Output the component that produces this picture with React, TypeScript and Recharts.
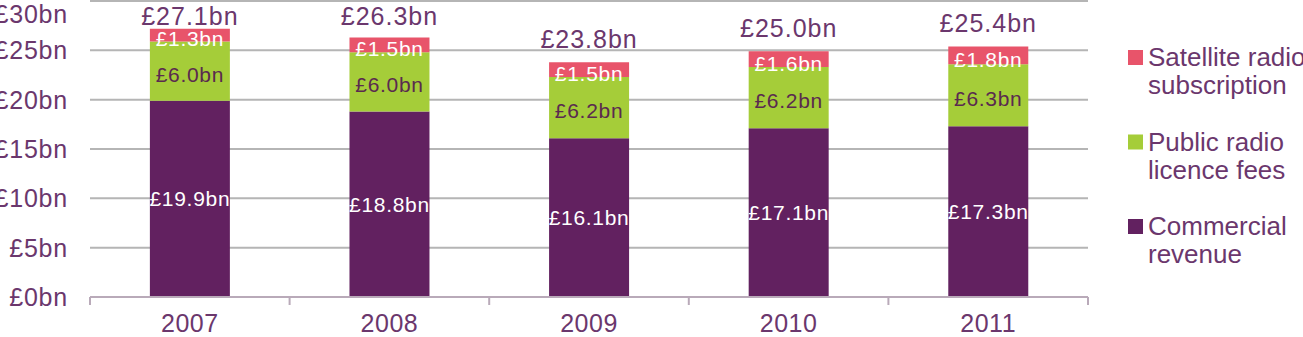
import { BarChart, Bar, XAxis, YAxis, CartesianGrid, LabelList } from "recharts"

const years = ["2007", "2008", "2009", "2010", "2011"]
const commercial = [19.9, 18.8, 16.1, 17.1, 17.3]
const licenceFees = [6.0, 6.0, 6.2, 6.2, 6.3]
const satellite = [1.3, 1.5, 1.5, 1.6, 1.8]
const totals = [27.1, 26.3, 23.8, 25.0, 25.4]
const yTicks = [0, 5, 10, 15, 20, 25, 30]

const PURPLE = "#622160"
const GREEN = "#a5cd39"
const RED = "#e8546a"
const TEXT = "#6b376d"
const GRID = "#b5b5b5"
const AXIS = "#b9aab9"
const FONT = "'Liberation Sans', Arial, sans-serif"

const data = years.map((year, i) => ({
  year,
  commercial: commercial[i],
  licenceFees: licenceFees[i],
  satellite: satellite[i],
}))

const legendItems = [
  { label: ["Satellite radio", "subscription"], color: RED },
  { label: ["Public radio", "licence fees"], color: GREEN },
  { label: ["Commercial", "revenue"], color: PURPLE },
]

const bn = (v: number) => `£${v.toFixed(1)}bn`

function SideLegend() {
  return (
    <svg
      width={190}
      height={337}
      style={{ position: "absolute", left: 1113, top: 0 }}
    >
      {legendItems.map((item, i) => {
        const top = 50 + i * 84.5
        return (
          <g key={i}>
            <rect x={15} y={top} width={15} height={15} fill={item.color} />
            <text x={35} y={top + 16} fill={TEXT} fontSize={26} fontFamily={FONT}>
              {item.label[0]}
            </text>
            <text x={35} y={top + 44} fill={TEXT} fontSize={26} fontFamily={FONT}>
              {item.label[1]}
            </text>
          </g>
        )
      })}
    </svg>
  )
}

// category ticks sit between the bars, so the tick mark goes at the band edge
function YearTick(props: any) {
  const { x, y, payload, index } = props
  const half = 99.8
  return (
    <g>
      <line x1={x - half} y1={y} x2={x - half} y2={y + 8} stroke={AXIS} strokeWidth={2} />
      {index === years.length - 1 && (
        <line x1={x + half} y1={y} x2={x + half} y2={y + 8} stroke={AXIS} strokeWidth={2} />
      )}
      <text
        x={x}
        y={y + 35}
        textAnchor="middle"
        fill={TEXT}
        fontSize={25}
        letterSpacing={0.5}
        fontFamily={FONT}
      >
        {payload.value}
      </text>
    </g>
  )
}

// stack total above each column, kept below the top edge
function TotalLabel(props: any) {
  const { x, y, width, index } = props
  return (
    <text
      x={x + width / 2}
      y={Math.max(y - 14, 25)}
      textAnchor="middle"
      fill={TEXT}
      fontSize={25}
      letterSpacing={1}
      fontFamily={FONT}
    >
      {bn(totals[index])}
    </text>
  )
}

const segLabel = {
  position: "center" as const,
  formatter: (v: any) => bn(Number(v)),
  fontSize: 21,
  letterSpacing: 0.7,
  fontFamily: FONT,
}

export default function App() {
  return (
    <div style={{ position: "absolute", left: 0, top: 0, width: 1303, height: 337 }}>
      <BarChart
        width={1303}
        height={337}
        data={data}
        margin={{ top: 1, right: 215, bottom: 0, left: 0 }}
        barCategoryGap="30%"
      >
        <CartesianGrid vertical={false} stroke={GRID} strokeWidth={2} />
        <XAxis
          dataKey="year"
          axisLine={{ stroke: AXIS, strokeWidth: 2 }}
          tickLine={false}
          tickSize={0}
          tickMargin={0}
          tick={<YearTick />}
          height={40}
        />
        <YAxis
          domain={[0, 30]}
          ticks={yTicks}
          tickFormatter={(v) => `£${v}bn`}
          axisLine={false}
          tickLine={false}
          tickSize={0}
          tickMargin={22}
          width={90}
          tick={{ fill: TEXT, fontSize: 25, letterSpacing: 0.8, fontFamily: FONT }}
        />
        <Bar dataKey="commercial" stackId="a" fill={PURPLE} isAnimationActive={false}>
          <LabelList dataKey="commercial" {...segLabel} fill="#ffffff" />
        </Bar>
        <Bar dataKey="licenceFees" stackId="a" fill={GREEN} isAnimationActive={false}>
          <LabelList dataKey="licenceFees" {...segLabel} fill="#5a2a4f" dy={3} />
        </Bar>
        <Bar dataKey="satellite" stackId="a" fill={RED} isAnimationActive={false}>
          <LabelList dataKey="satellite" {...segLabel} fill="#ffffff" dy={4} />
          <LabelList dataKey="satellite" content={<TotalLabel />} />
        </Bar>
      </BarChart>
      <SideLegend />
    </div>
  )
}
